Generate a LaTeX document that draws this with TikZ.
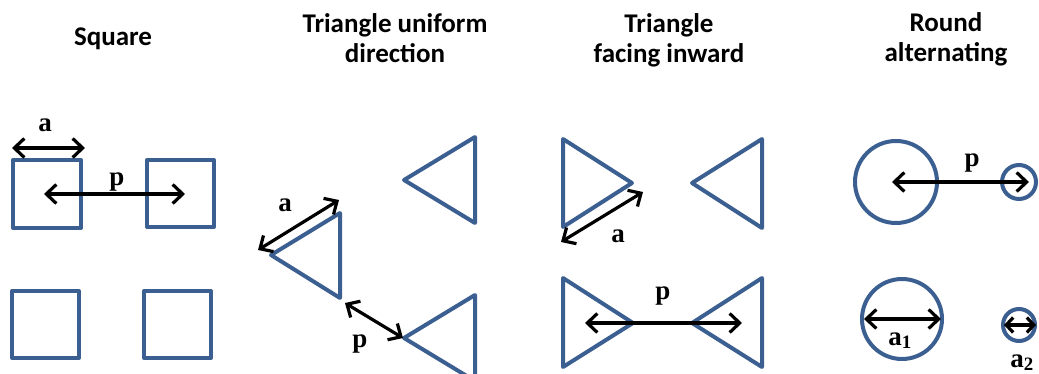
\documentclass[tikz,border=0pt]{standalone}
\usepackage{fontspec}
\setmainfont{Liberation Serif}
\newfontfamily\titlefont{Carlito}
\usetikzlibrary{arrows.meta}
\definecolor{shapeblue}{HTML}{3C5F91}
\begin{document}
\begin{tikzpicture}[x=1pt,y=-1pt,
  shp/.style={draw=shapeblue,line width=4pt,line join=round},
  dim/.style={draw=black,line width=3.2pt,{Straight Barb[length=10pt,width=19pt,line width=3.2pt]}-{Straight Barb[length=10pt,width=19pt,line width=3.2pt]}},
  smalldim/.style={draw=black,line width=3.2pt,{Straight Barb[length=7pt,width=15pt,line width=3.2pt]}-{Straight Barb[length=7pt,width=15pt,line width=3.2pt]}},
  ttl/.style={font=\titlefont\bfseries\fontsize{27}{30}\selectfont,align=center,inner sep=0pt,anchor=base},
  lbl/.style={font=\bfseries\fontsize{27}{30}\selectfont,inner sep=0pt,anchor=base}]
\useasboundingbox (0,0) rectangle (1039,374);
\clip (0,0) rectangle (1039,374);
% titles (base anchor = baseline of the last line)
\node[ttl] (t1) at (113,46) {Square};
\node[ttl] (t2) at (395,63) {Triangle uniform\\direction};
\node[ttl] (t3) at (669,63) {Triangle\\facing inward};
\node[ttl] (t4) at (946,62) {Round\\alternating};
% squares
\draw[shp] (13,160) rectangle (81,228);
\draw[shp] (147,160) rectangle (214,227);
\draw[shp] (12,291) rectangle (79,358);
\draw[shp] (144,291) rectangle (211,358);
\coordinate (sa1) at (12,148); \coordinate (sa2) at (85,148);
\coordinate (sp1) at (44,194); \coordinate (sp2) at (185,194);
\draw[dim] (sa1) -- (sa2);
\draw[dim] (sp1) -- (sp2);
\node[lbl] (la1) at (45,132) {a};
\node[lbl] (lp1) at (117,186) {p};
% triangles uniform direction
\draw[shp] (404,180) -- (475,137) -- (475,223) -- cycle;
\draw[shp] (271,255) -- (340,213) -- (340,298) -- cycle;
\draw[shp] (404,338) -- (475,295) -- (475,381) -- cycle;
\coordinate (ua1) at (258,250); \coordinate (ua2) at (339,200);
\coordinate (up1) at (345,303); \coordinate (up2) at (403,338);
\draw[dim] (ua1) -- (ua2);
\draw[dim] (up1) -- (up2);
\node[lbl] (la2) at (285,212) {a};
\node[lbl] (lp2) at (360,347) {p};
% triangles facing inward
\draw[shp] (632,183) -- (563,139) -- (563,227) -- cycle;
\draw[shp] (692,183) -- (762,139) -- (762,228) -- cycle;
\draw[shp] (633,323) -- (563,278) -- (563,367) -- cycle;
\draw[shp] (692,323) -- (762,278) -- (762,367) -- cycle;
\coordinate (ia1) at (561,242); \coordinate (ia2) at (643,192);
\coordinate (ip1) at (585,323); \coordinate (ip2) at (742,323);
\draw[dim] (ia1) -- (ia2);
\draw[dim] (ip1) -- (ip2);
\node[lbl] (la3) at (618,243) {a};
\node[lbl] (lp3) at (663,299) {p};
% round alternating
\draw[shp] (896,182) circle[radius=41];
\draw[shp] (1019,182) circle[radius=17];
\draw[shp] (902,319) circle[radius=40];
\draw[shp] (1019,325) circle[radius=16];
\coordinate (rp1) at (892,182); \coordinate (rp2) at (1029,182);
\coordinate (ra1) at (864,319); \coordinate (ra2) at (941,319);
\coordinate (rb1) at (1004,325); \coordinate (rb2) at (1036,325);
\draw[dim] (rp1) -- (rp2);
\draw[dim] (ra1) -- (ra2);
\draw[smalldim] (rb1) -- (rb2);
\node[lbl] (lp4) at (972,167) {p};
\node[lbl] (la4) at (900,345) {a\textsubscript{1}};
\node[lbl] (la5) at (1022,367) {a\textsubscript{2}};
\end{tikzpicture}
\end{document}
